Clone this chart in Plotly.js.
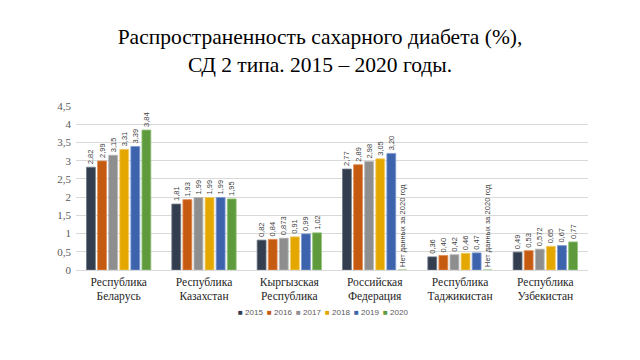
<!DOCTYPE html>
<html>
<head>
<meta charset="utf-8">
<script src="https://cdn.plot.ly/plotly-3.0.1.min.js"></script>
<style>html,body{margin:0;padding:0;background:#fff;}#chart{width:640px;height:360px;}</style>
</head>
<body>
<div id="chart"></div>
<script>
const categories = ["Республика<br>Беларусь", "Республика<br>Казахстан", "Кыргызская<br>Республика", "Российская<br>Федерация", "Республика<br>Таджикистан", "Республика<br>Узбекистан"];
const years = ["2015", "2016", "2017", "2018", "2019", "2020"];
const v2015 = [2.82, 1.81, 0.82, 2.77, 0.36, 0.49];
const v2016 = [2.99, 1.93, 0.84, 2.89, 0.40, 0.53];
const v2017 = [3.15, 1.99, 0.873, 2.98, 0.42, 0.572];
const v2018 = [3.31, 1.99, 0.91, 3.05, 0.46, 0.65];
const v2019 = [3.39, 1.99, 0.99, 3.20, 0.47, 0.67];
const v2020 = [3.84, 1.95, 1.02, null, null, 0.77];
const noDataText = "Нет данных за 2020 год";
const colors = ["#323E4F", "#C55A11", "#8E8E8E", "#E3A700", "#3C63AB", "#5F9B3D"];
const lineColors = ["#6D7785", "#E08A55", "#B8B8B8", "#F2CC66", "#7C9AD0", "#93C27A"];
const SERIF = 'Times New Roman, Liberation Serif, serif';
const SANS = 'Arial, Liberation Sans, sans-serif';

function fmt(v) {
  if (v === null) return noDataText;
  const s = (Math.round(v * 100) === v * 100) ? v.toFixed(2) : v.toFixed(3);
  return s.replace('.', ',');
}

const series = [v2015, v2016, v2017, v2018, v2019, v2020];
const traces = series.map((vals, i) => ({
  type: 'bar',
  name: years[i],
  x: categories,
  y: vals.map(v => v === null ? 0 : v),
  text: vals.map(fmt),
  textposition: 'outside',
  textangle: -90,
  constraintext: 'none',
  cliponaxis: false,
  textfont: {family: SANS, size: 7.5, color: '#404040'},
  marker: {color: colors[i], line: {color: lineColors[i], width: 0.8}},
  hoverinfo: 'skip',
  showlegend: false
}));

// Legend drawn as text entries (compact, like the reference)
const plotL = 76, plotW = 512;
const legendAnn = years.map((yr, i) => ({
  xref: 'paper', yref: 'paper',
  x: (236 + i * 29 - plotL) / plotW, xanchor: 'left',
  y: -0.262, yanchor: 'middle',
  text: '<span style="color:' + colors[i] + '">■</span> ' + yr,
  showarrow: false,
  font: {family: SANS, size: 8, color: '#595959'}
}));

const layout = {
  width: 640, height: 360,
  margin: {l: 76, r: 52, t: 106, b: 90},
  paper_bgcolor: '#fff', plot_bgcolor: '#fff',
  title: {
    text: 'Распространенность сахарного диабета (%),<br>СД 2 типа. 2015 – 2020 годы.',
    font: {family: SERIF, size: 21.5, color: '#000'},
    x: 0.5, xanchor: 'center', y: 0.878, yanchor: 'top', yref: 'container'
  },
  barmode: 'group',
  bargap: 0.22,
  bargroupgap: 0.2,
  xaxis: {
    showgrid: false, showline: false, ticks: '', zeroline: false,
    tickfont: {family: SERIF, size: 11.5, color: '#262626'},
    ticklabelstandoff: 3
  },
  yaxis: {
    range: [0, 4.5], dtick: 0.5, showgrid: true, gridcolor: '#D9D9D9', gridwidth: 1,
    zeroline: true, zerolinecolor: '#D9D9D9', zerolinewidth: 1,
    tickfont: {family: SERIF, size: 11, color: '#595959'},
    ticklabelstandoff: 4
  },
  separators: ', ',
  annotations: legendAnn,
  showlegend: false
};

Plotly.newPlot('chart', traces, layout, {displayModeBar: false, staticPlot: true});
</script>
</body>
</html>
